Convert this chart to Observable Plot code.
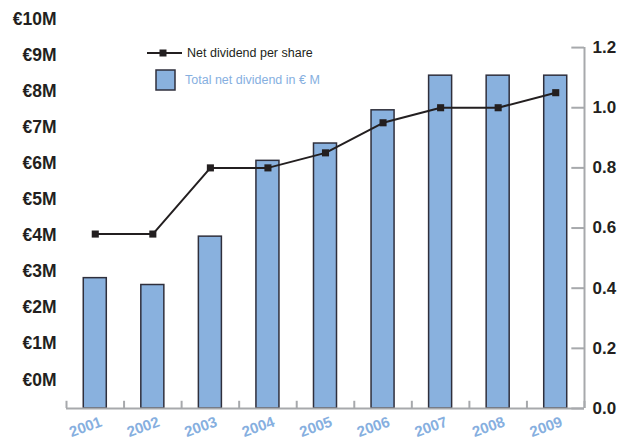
<!DOCTYPE html>
<html><head><meta charset="utf-8">
<script src="https://cdn.jsdelivr.net/npm/d3@7"></script>
<script src="https://cdn.jsdelivr.net/npm/@observablehq/plot@0.6"></script>
<style>
body{margin:0;background:#fff;}
#wrap{position:relative;width:617px;height:443px;font-family:"Liberation Sans",Arial,Helvetica,sans-serif;}
.leg{position:absolute;display:flex;align-items:center;white-space:nowrap;font-size:12.5px;line-height:1;}
.leg svg{display:block;}
</style></head><body><div id="wrap"></div>
<script>
const years = [2001, 2002, 2003, 2004, 2005, 2006, 2007, 2008, 2009];
const totalNetDividendM = [2.82, 2.63, 3.97, 6.07, 6.55, 7.47, 8.43, 8.43, 8.43];
const netDividendPerShare = [0.58, 0.58, 0.80, 0.80, 0.85, 0.95, 1.00, 1.00, 1.05];
const leftTickLabels = [0, 1, 2, 3, 4, 5, 6, 7, 8, 9, 10];
const rightTicks = [0, 0.2, 0.4, 0.6, 0.8, 1.0, 1.2];
const seriesNames = ["Net dividend per share", "Total net dividend in € M"];

// the € M axis of the original sits on the same vertical scale, offset from the baseline
const M_OFFSET = 0.095, M_PER_UNIT = 0.12;
const toY = m => M_OFFSET + M_PER_UNIT * m;

const data = years.map((year, i) => ({year, total: totalNetDividendM[i], dps: netDividendPerShare[i]}));
const boundaries = years.map(y => y - 0.5).concat([years[years.length - 1] + 0.5]);
const xMin = years[0] - 0.5, xMax = years[years.length - 1] + 0.5;

const axisGray = "#a7a9ac", ink = "#231f20", barBlue = "#89b1de", labelBlue = "#86afdf";

const chart = Plot.plot({
  width: 617, height: 443,
  marginTop: 17, marginBottom: 35, marginLeft: 66, marginRight: 33,
  x: {type: "linear", domain: [xMin, xMax], axis: null},
  y: {domain: [0, 1.3], axis: null},
  style: {fontFamily: "'Liberation Sans', Arial, Helvetica, sans-serif", background: "#fff"},
  marks: [
    Plot.rectY(data, {x1: d => d.year - 0.2, x2: d => d.year + 0.2, y1: 0, y2: d => toY(d.total), fill: barBlue, stroke: "#2f2f3c", strokeWidth: 1.5}),
    Plot.ruleY([0], {x1: xMin, x2: xMax, stroke: axisGray, strokeWidth: 2}),
    Plot.ruleX(boundaries, {y1: 0, y2: 0.024, stroke: axisGray, strokeWidth: 2}),
    Plot.ruleX([xMax], {y1: 0, y2: 1.2, stroke: axisGray, strokeWidth: 2}),
    Plot.ruleY(rightTicks, {x1: xMax - 0.22, x2: xMax, stroke: axisGray, strokeWidth: 2}),
    Plot.axisY(rightTicks, {anchor: "right", label: null, tickSize: 0, tickPadding: 8, tickFormat: d3.format(".1f"), fontSize: 17, fontWeight: "bold", fill: ink}),
    Plot.text(leftTickLabels, {y: toY, frameAnchor: "left", dx: -10, textAnchor: "end", text: k => `€${k}M`, fontSize: 17.5, fontWeight: "bold", fill: ink}),
    Plot.text(years, {x: d => d, frameAnchor: "bottom", dy: 23, dx: -8, rotate: -20, text: d => String(d), fill: labelBlue, fontSize: 15, fontWeight: "bold"}),
    Plot.line(data, {x: "year", y: "dps", stroke: ink, strokeWidth: 2}),
    Plot.dot(data, {x: "year", y: "dps", symbol: "square", r: 4, fill: ink, stroke: "none"})
  ]
});
const wrap = document.getElementById("wrap");
wrap.appendChild(chart);

const leg1 = document.createElement("div");
leg1.className = "leg";
leg1.style.left = "147px"; leg1.style.top = "46px"; leg1.style.color = ink;
leg1.innerHTML = `<svg width="36" height="14"><line x1="0" y1="7" x2="35" y2="7" stroke="${ink}" stroke-width="2"/><rect x="12.5" y="3.5" width="7" height="7" fill="${ink}"/></svg><span style="margin-left:4px">${seriesNames[0]}</span>`;
wrap.appendChild(leg1);

const leg2 = document.createElement("div");
leg2.className = "leg";
leg2.style.left = "155px"; leg2.style.top = "69px"; leg2.style.color = labelBlue;
leg2.innerHTML = `<svg width="21" height="22"><rect x="1" y="1" width="19" height="20" fill="${barBlue}" stroke="#2f2f3c" stroke-width="1.5"/></svg><span style="margin-left:9px">${seriesNames[1]}</span>`;
wrap.appendChild(leg2);
</script></body></html>
